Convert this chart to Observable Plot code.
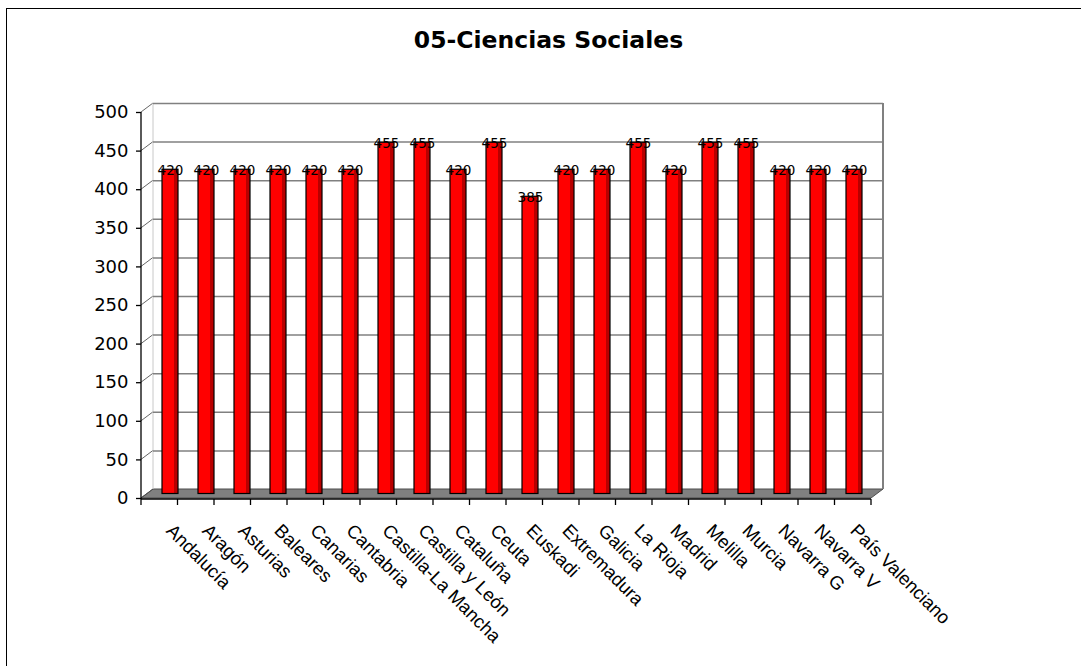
<!DOCTYPE html>
<html>
<head>
<meta charset="utf-8">
<script src="https://cdn.jsdelivr.net/npm/d3@7"></script>
<script src="https://cdn.jsdelivr.net/npm/@observablehq/plot@0.6"></script>
<style>
  html, body { margin: 0; padding: 0; background: #fff; overflow: hidden; }
  #page { position: relative; width: 1081px; height: 666px; }
  #frame { position: absolute; left: 6px; top: 8px; width: 1075px; height: 658px;
           border-top: 1px solid #000; border-left: 1px solid #000; box-sizing: border-box; }
  #title { position: absolute; left: 8px; top: 28px; width: 1081px; text-align: center;
           font: bold 23.5px "DejaVu Sans", sans-serif; line-height: 24px; color: #000; }
  #chart { position: absolute; left: 0; top: 60px; }
</style>
</head>
<body>
<div id="page">
  <div id="frame"></div>
  <div id="title"></div>
  <div id="chart"></div>
</div>
<script>
const title = "05-Ciencias Sociales";
const categories = [
  "Andalucía", "Aragón", "Asturias", "Baleares", "Canarias", "Cantabria",
  "Castilla-La Mancha", "Castilla y León", "Cataluña", "Ceuta", "Euskadi",
  "Extremadura", "Galicia", "La Rioja", "Madrid", "Melilla", "Murcia",
  "Navarra G", "Navarra V", "País Valenciano"
];
const values = [420, 420, 420, 420, 420, 420, 455, 455, 420, 455, 385,
                420, 420, 455, 420, 455, 455, 420, 420, 420];
const yTicks = [0, 50, 100, 150, 200, 250, 300, 350, 400, 450, 500];

const data = categories.map((c, i) => ({cat: c, value: values[i]}));

document.getElementById("title").textContent = title;

const DX = 12, DY = -9;       // 3-D depth of the walls
const BX = 6, BY = -4.5;      // bars sit at mid-depth

function walls(index, scales, vals, dim) {
  const {width, marginLeft, marginRight} = dim;
  const y = scales.y;
  const x0 = marginLeft, x1 = width - marginRight;
  const yb = y(yTicks[0]), yt = y(yTicks[yTicks.length - 1]);
  const g = d3.create("svg:g");
  g.append("path")
    .attr("d", `M${x0},${yb}L${x1},${yb}L${x1 + DX},${yb + DY}L${x0 + DX},${yb + DY}Z`)
    .attr("fill", "#808080").attr("stroke", "#4d4d4d").attr("stroke-width", 1);
  for (const t of yTicks) {
    g.append("line")
      .attr("x1", x0).attr("y1", y(t)).attr("x2", x0 + DX).attr("y2", y(t) + DY)
      .attr("stroke", t === 0 ? "#4d4d4d" : "#666").attr("stroke-width", 1);
  }
  g.append("line")
    .attr("x1", x0 + DX).attr("y1", yt + DY).attr("x2", x0 + DX).attr("y2", yb + DY)
    .attr("stroke", "#c8c8c8").attr("stroke-width", 1);
  g.append("line")
    .attr("x1", x1 + DX).attr("y1", yt + DY).attr("x2", x1 + DX).attr("y2", yb + DY)
    .attr("stroke", "#808080").attr("stroke-width", 2);
  return g.node();
}

function axes(index, scales, vals, dim) {
  const {width, marginLeft, marginRight} = dim;
  const y = scales.y;
  const x0 = marginLeft, x1 = width - marginRight;
  const yb = y(yTicks[0]), yt = y(yTicks[yTicks.length - 1]);
  const step = (x1 - x0) / categories.length;
  const g = d3.create("svg:g").attr("stroke", "#000").attr("stroke-width", 1.3);
  g.append("line").attr("x1", x0).attr("x2", x0).attr("y1", yt).attr("y2", yb + 1);
  g.append("line").attr("x1", x0).attr("x2", x1).attr("y1", yb + 1).attr("y2", yb + 1);
  for (let i = 0; i <= categories.length; i++) {
    const xx = x0 + i * step;
    g.append("line").attr("x1", xx).attr("x2", xx).attr("y1", yb + 1).attr("y2", yb + 7);
  }
  return g.node();
}

const chart = Plot.plot({
  width: 1081,
  height: 606,
  marginTop: 52,
  marginBottom: 168,
  marginLeft: 141,
  marginRight: 210,
  x: {domain: categories, padding: 0, axis: null},
  y: {domain: [0, 500]},
  marks: [
    walls,
    Plot.ruleY(yTicks.slice(1), {dx: DX, dy: DY, stroke: "#808080", strokeWidth: 1.5}),
    Plot.barY(data, {x: "cat", y: "value", fill: "#ff0000", insetLeft: 10, insetRight: 10, dx: BX, dy: BY}),
    Plot.barY(data, {x: "cat", y: "value", fill: "#b80000", insetLeft: 22, insetRight: 10, dx: BX, dy: BY}),
    Plot.barY(data, {x: "cat", y: "value", fill: "none", stroke: "#000", strokeWidth: 1.2, insetLeft: 10, insetRight: 10, dx: BX, dy: BY}),
    Plot.text(data, {x: "cat", y: "value", text: d => String(d.value), dx: BX, dy: -4,
      fontSize: 13.5, fontFamily: "DejaVu Sans", fill: "#000", lineAnchor: "middle"}),
    Plot.axisY({ticks: yTicks, tickSize: 5, tickPadding: 8, fontSize: 18,
      fontFamily: "DejaVu Sans", label: null, stroke: "#000", strokeWidth: 1.3}),
    axes,
    Plot.text(categories, {x: d => d, frameAnchor: "bottom", rotate: 45, textAnchor: "start",
      lineAnchor: "top", dx: 10, dy: 24, fontSize: 18.5, fontFamily: "Liberation Sans", fill: "#000"})
  ]
});
document.getElementById("chart").appendChild(chart);
</script>
</body>
</html>
